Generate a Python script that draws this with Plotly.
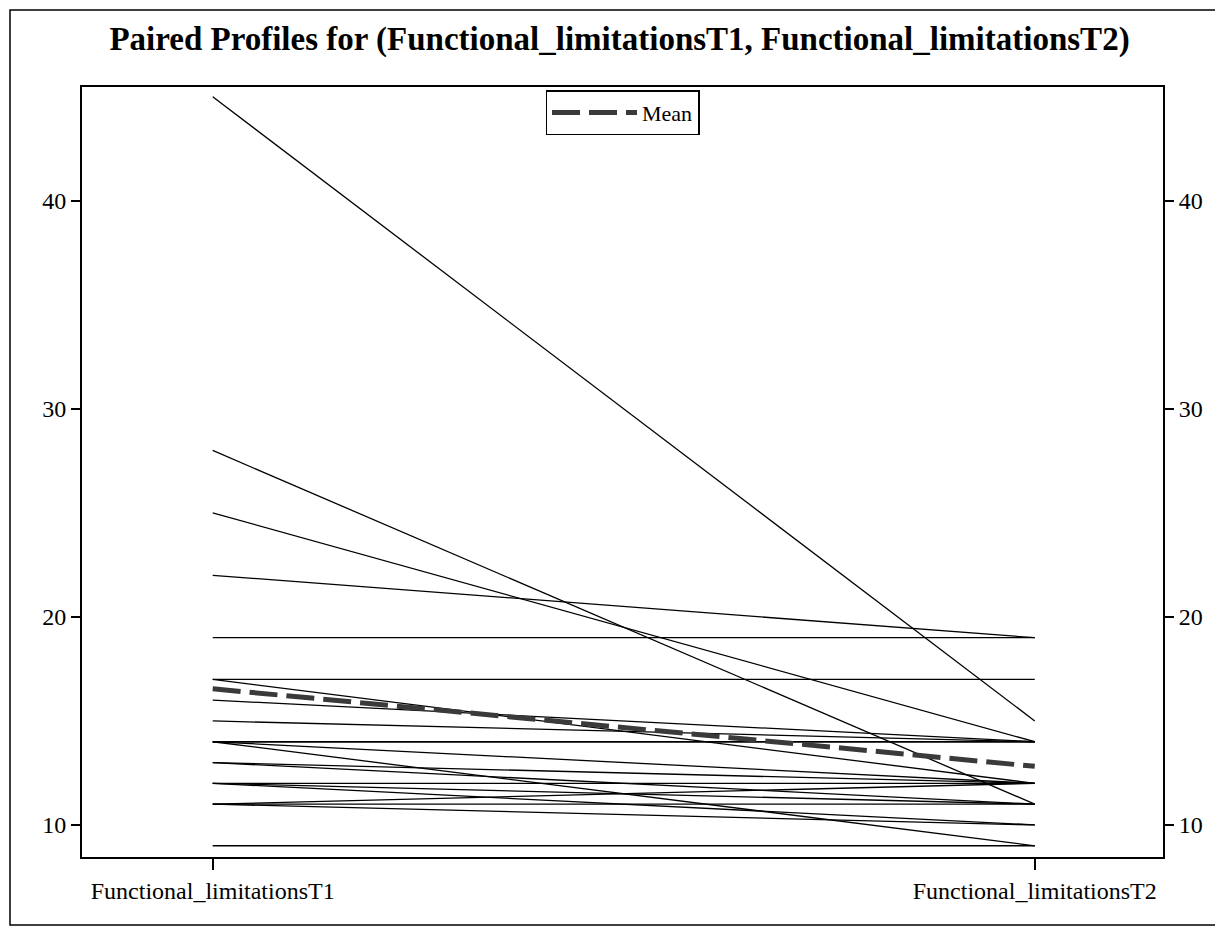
import plotly.graph_objects as go

# paired values (one entry per subject)
categories = ["Functional_limitationsT1", "Functional_limitationsT2"]
t1_values = [45, 28, 25, 22, 19, 17, 17, 16, 15, 14, 14, 14, 13, 13, 12, 12, 11, 11, 11, 9, 12, 14]
t2_values = [15, 11, 14, 19, 19, 17, 12, 14, 14, 14, 9, 12, 12, 11, 12, 10, 11, 12, 10, 9, 11, 14]
y_ticks = [10, 20, 30, 40]

FONT = "Liberation Serif"

fig = go.Figure()

# one thin black line per subject
for a, b in zip(t1_values, t2_values):
    fig.add_trace(
        go.Scatter(
            x=categories,
            y=[a, b],
            mode="lines",
            line={"color": "black", "width": 1.3},
            showlegend=False,
            hoverinfo="skip",
        )
    )

# mean profile, thick dashed
mean_t1 = sum(t1_values) / len(t1_values)
mean_t2 = sum(t2_values) / len(t2_values)
fig.add_trace(
    go.Scatter(
        x=categories,
        y=[mean_t1, mean_t2],
        mode="lines",
        line={"color": "#3a3a3a", "width": 5, "dash": "28px,9px"},
        name="Mean",
        showlegend=True,
    )
)

# same values on a right-hand axis so the right ticks are drawn
fig.add_trace(
    go.Scatter(
        x=categories,
        y=[mean_t1, mean_t2],
        mode="lines",
        line={"color": "rgba(0,0,0,0)", "width": 0},
        yaxis="y2",
        showlegend=False,
        hoverinfo="skip",
    )
)

y_range = [8.46, 45.47]
axis_common = dict(
    range=y_range,
    tickvals=y_ticks,
    ticks="outside",
    ticklen=9,
    tickwidth=1.5,
    tickcolor="black",
    showline=True,
    linecolor="black",
    linewidth=2,
    showgrid=False,
    zeroline=False,
    tickfont={"family": FONT, "size": 24, "color": "black"},
)

# page has an 8px body margin, margins are set so the plot box lands at 82..1163 x 87..857
fig.update_layout(
    width=1223,
    height=930,
    paper_bgcolor="white",
    plot_bgcolor="white",
    margin={"l": 74, "r": 68, "t": 79, "b": 81},
    title={
        "text": "<b>Paired Profiles for (Functional_limitationsT1, Functional_limitationsT2)</b>",
        "x": 0.5,
        "xanchor": "center",
        "y": 0.967,
        "yanchor": "middle",
        "font": {"family": FONT, "size": 33, "color": "black"},
    },
    xaxis={
        "type": "category",
        "range": [-0.159, 1.156],
        "ticks": "outside",
        "ticklen": 11,
        "tickwidth": 1.5,
        "tickcolor": "black",
        "showline": True,
        "linecolor": "black",
        "linewidth": 2,
        "mirror": True,
        "showgrid": False,
        "tickfont": {"family": FONT, "size": 24, "color": "black"},
    },
    yaxis={**axis_common, "side": "left"},
    yaxis2={**axis_common, "side": "right", "overlaying": "y"},
    legend={
        "x": 0.5,
        "xanchor": "center",
        "y": 0.996,
        "yanchor": "top",
        "bgcolor": "white",
        "bordercolor": "black",
        "borderwidth": 1.5,
        "font": {"family": FONT, "size": 22, "color": "black"},
        "itemwidth": 85,
    },
    shapes=[
        # outer frame around the whole graphic
        {
            "type": "rect",
            "xref": "paper",
            "yref": "paper",
            "x0": -0.0666,
            "x1": 1.0509,
            "y0": -0.0883,
            "y1": 1.1,
            "line": {"color": "black", "width": 1.5},
        }
    ],
)

fig.write_html("out.html")
